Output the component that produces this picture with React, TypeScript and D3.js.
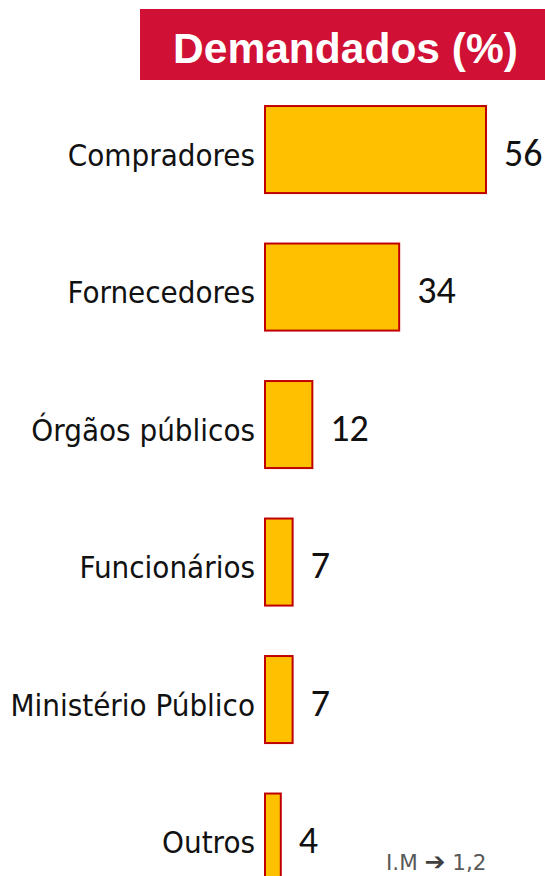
import React from "react";
import * as d3 from "d3";

// data
const categories = ["Compradores", "Fornecedores", "Órgãos públicos", "Funcionários", "Ministério Público", "Outros"];
const values = [56, 34, 12, 7, 7, 4];
const title = "Demandados (%)";
const noteLeft = "I.M ";
const noteArrow = "\u2794";
const noteRight = " 1,2";

const width = 545;
const height = 876;

export default function App() {
  const x = d3.scaleLinear().domain([0, 56]).range([265, 486]);
  const y = d3
    .scaleBand<string>()
    .domain(categories)
    .range([80.8, 905.8])
    .paddingInner(0.367)
    .paddingOuter(0.1835);

  const rows = d3.zip(categories, values) as [string, number][];

  return (
    <svg
      width={width}
      height={height}
      style={{ position: "absolute", left: 0, top: 0, display: "block", background: "#fff" }}
    >
      {/* title banner */}
      <rect x={140} y={9} width={405} height={71} fill="#D01034" />
      <text
        x={345.5}
        y={63}
        textAnchor="middle"
        fill="#fff"
        fontFamily="'Liberation Sans', Arial, sans-serif"
        fontWeight="bold"
        fontSize={42.5}
      >
        {title}
      </text>

      {rows.map(([c, v]) => {
        const y0 = y(c)!;
        const cy = y0 + y.bandwidth() / 2;
        return (
          <g key={c}>
            <rect
              x={x(0)}
              y={y0}
              width={x(v) - x(0)}
              height={y.bandwidth()}
              fill="#FFC000"
              stroke="#C00000"
              strokeWidth={2}
            />
            <text
              x={x(0) - 10}
              y={cy + 16}
              textAnchor="end"
              fontFamily="'DejaVu Sans Condensed', 'DejaVu Sans', sans-serif"
              fontSize={31}
              fill="#111"
            >
              {c}
            </text>
            <text
              x={x(v) + 18}
              y={cy + 16}
              fontFamily="Carlito, 'Open Sans', sans-serif"
              fontSize={38}
              fill="#111"
            >
              {v}
            </text>
          </g>
        );
      })}

      <text
        x={386}
        y={870}
        fontFamily="'DejaVu Sans', sans-serif"
        fontSize={21.5}
        fill="#595959"
      >
        {noteLeft}
        <tspan fontWeight="bold" fontSize={25} fill="#404040">{noteArrow}</tspan>
        {noteRight}
      </text>
    </svg>
  );
}
